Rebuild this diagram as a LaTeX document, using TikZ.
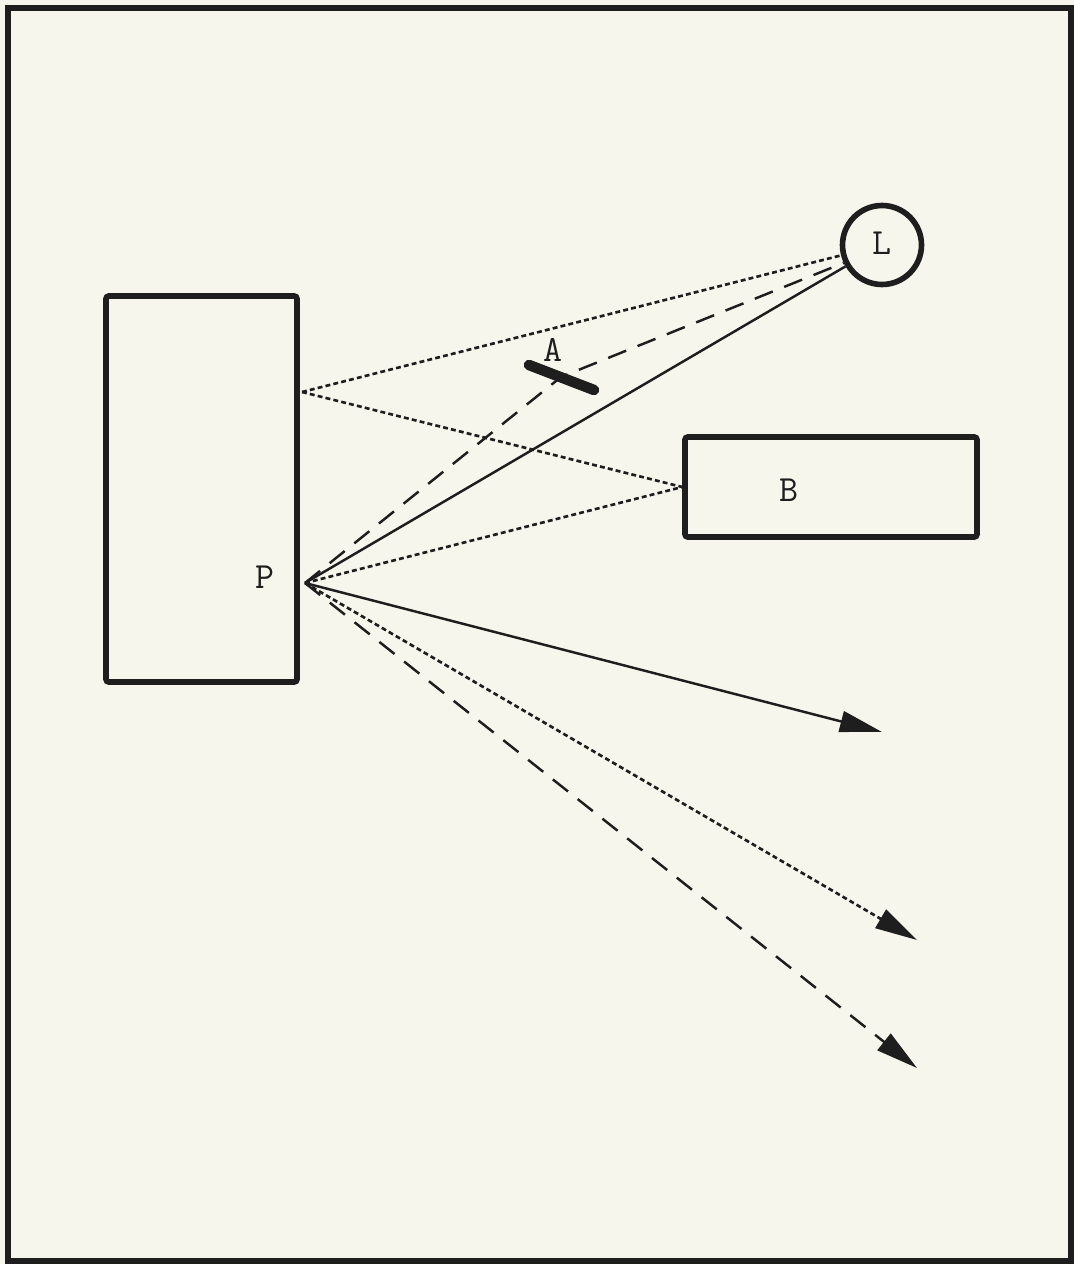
\documentclass[tikz,border=0pt]{standalone}
\usetikzlibrary{arrows.meta}
\definecolor{paper}{HTML}{F6F6EC}
\definecolor{ink}{HTML}{1E1E1E}
\begin{document}
\begin{tikzpicture}[x=0.02cm,y=-0.02cm,
  box/.style={draw=ink,line width=3.2pt,rounded corners=1.5pt,inner sep=0pt},
  lbl/.style={font=\ttfamily\fontsize{21}{21}\selectfont,text=ink},
  ray/.style={draw=ink,line width=1.4pt},
  dotray/.style={ray,line width=1.5pt,dash pattern=on 2.8pt off 1.8pt},
  dashray/.style={ray,dash pattern=on 11pt off 7pt},
  tip/.style={-{Triangle[length=24pt,width=12pt]}}]
\useasboundingbox (0,0) rectangle (1074,1264);
\fill[paper] (0,0) rectangle (1074,1264);
\draw[ink,line width=3pt] (8,8) rectangle (1071,1261);
% objects
\node[box,minimum width=3.82cm,minimum height=7.72cm] (wall) at (201.5,489) {};
\node[box,circle,minimum size=1.58cm] (L) at (882,245) {};
\node[lbl] (Ltext) at (882,243) {L};
\node[box,minimum width=5.84cm,minimum height=2cm] (B) at (831,487) {};
\node[lbl] (Btext) at (789,490) {B};
\coordinate (A1) at (529,365);
\coordinate (A2) at (594,390);
\coordinate (Ac) at (561,377);
\draw[ink,line width=6pt,line cap=round] (A1) -- (A2);
\node[lbl] (Atext) at (553,350) {A};
\node[lbl] (Ptext) at (265,577) {P};
\coordinate (P) at (305,583);
\coordinate (Q) at (302,392);
\coordinate (E1) at (882,732);
\coordinate (E2) at (917,940);
\coordinate (E3) at (917,1068);
% rays
\draw[dotray] (Q) -- (L);
\draw[dotray] (Q) -- (B.west);
\draw[dotray] (P) -- (B.west);
\draw[ray] (P) -- (L);
\draw[dashray] (P) -- (Ac) -- (L.205);
\draw[ray,tip] (P) -- (E1);
\draw[dotray,tip] (P) -- (E2);
\draw[dashray,tip] (P) -- (E3);
\end{tikzpicture}
\end{document}
